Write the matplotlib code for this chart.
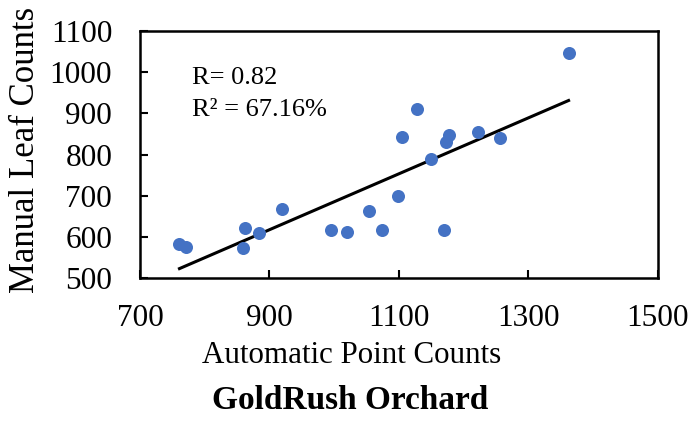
import matplotlib
matplotlib.use('Agg')
import matplotlib.pyplot as plt
import numpy as np

# GoldRush Orchard: automatic vs manual counts
auto_counts = [761, 771, 862, 859, 884, 919, 995, 1020, 1054, 1074,
               1098, 1104, 1128, 1150, 1169, 1173, 1178, 1222, 1256, 1362]
manual_counts = [582, 576, 621, 572, 610, 668, 617, 612, 663, 617,
                 699, 842, 910, 788, 616, 831, 847, 854, 840, 1046]
x_ticks = [700, 900, 1100, 1300, 1500]
y_ticks = [500, 600, 700, 800, 900, 1000, 1100]
r_text = 'R= 0.82'
r2_text = 'R² = 67.16%'

plt.rcParams['font.family'] = ['Liberation Serif', 'DejaVu Serif']

fig = plt.figure(figsize=(6.94, 4.22), dpi=100)
ax = fig.add_axes([0.2017, 0.3412, 0.7463, 0.5853])

x = np.array(auto_counts)
y = np.array(manual_counts)
ax.scatter(x, y, s=88, color='#4472C4', zorder=3, linewidths=0)

# linear trendline
k, b = np.polyfit(x, y, 1)
xs = np.array([x.min(), x.max()])
ax.plot(xs, k * xs + b, color='black', lw=2.2, zorder=2)

ax.set_xlim(700, 1500)
ax.set_ylim(500, 1100)
ax.set_xticks(x_ticks)
ax.set_yticks(y_ticks)
ax.tick_params(direction='in', length=6, width=1.5, labelsize=22.5)
ax.tick_params(axis='x', pad=19)
ax.tick_params(axis='y', pad=20)
for sp in ax.spines.values():
    sp.set_linewidth(1.8)

ax.text(0.10, 0.785, r_text, transform=ax.transAxes, fontsize=19, va='baseline')
ax.text(0.10, 0.655, r2_text, transform=ax.transAxes, fontsize=19, va='baseline')

fig.text(0.037, 0.645, 'Manual Leaf Counts', fontsize=25, rotation=90,
         ha='center', va='center')
fig.text(0.506, 0.157, 'Automatic Point Counts', fontsize=22.3,
         ha='center', va='center')
fig.text(0.504, 0.05, 'GoldRush Orchard', fontsize=24, fontweight='bold',
         ha='center', va='center')

fig.savefig('out.png', dpi=100)
